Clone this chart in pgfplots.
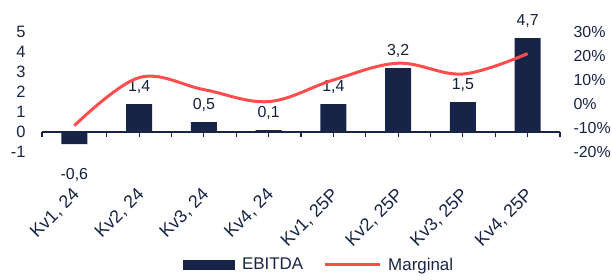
\documentclass[border=0pt]{standalone}
\usepackage{pgfplots}
\pgfplotsset{compat=1.18}
\usepackage{fontspec}
\setmainfont{Liberation Sans}
\definecolor{navy}{HTML}{172447}
\definecolor{lred}{HTML}{FF4D4D}
\begin{document}
\begin{tikzpicture}[x=1bp,y=1bp]
\pgfplotsset{
  every axis/.style={
    scale only axis, width=518bp, height=120bp,
    xmin=-0.5, xmax=7.5,
    /pgf/number format/assume math mode=true,
    tick label style={font=\fontsize{16.5}{18}\selectfont, text=navy},
  }
}
\begin{axis}[
  ymin=-1, ymax=5,
  ytick={-1,0,1,2,3,4,5},
  axis y line*=left,
  y axis line style={draw=none},
  ytick style={draw=none},
  yticklabel style={xshift=-8bp},
  axis x line*=middle,
  x axis line style={navy, line width=1.2bp, -},
  xtick={0,...,7},
  xticklabels={{Kv1, 24},{Kv2, 24},{Kv3, 24},{Kv4, 24},{Kv1, 25P},{Kv2, 25P},{Kv3, 25P},{Kv4, 25P}},
  extra x ticks={-0.5,0.5,1.5,2.5,3.5,4.5,5.5,6.5,7.5},
  extra x tick labels={},
  extra x tick style={tick style={navy, line width=1.2bp}},
  tick align=outside,
  major tick length=5bp,
  xtick style={navy, line width=1.2bp},
  xticklabel style={font=\fontsize{18}{20}\selectfont, xshift=-3bp, yshift=-45bp, rotate=45, anchor=north east},
  ybar, bar width=26bp,
  nodes near coords={\rule{0pt}{25bp}\pgfmathprintnumber{\pgfplotspointmeta}},
  nodes near coords style={font=\fontsize{16}{18}\selectfont, text=navy!85!black, inner ysep=10bp,
    /pgf/number format/use comma, /pgf/number format/fixed,
    /pgf/number format/fixed zerofill, /pgf/number format/precision=1},
  legend style={at={(axis description cs:0.535,-0.94)}, anchor=center, draw=none,
    legend columns=2, font=\fontsize{17}{19}\selectfont, text=navy,
    /tikz/every odd column/.append style={column sep=5bp},
    /tikz/every even column/.append style={column sep=18bp}},
]
\addplot[fill=navy, draw=none,
  legend image code/.code={\fill[navy] (0bp,-5bp) rectangle (52bp,5bp);}]
  coordinates {(0,-0.6) (1,1.4) (2,0.5) (3,0.1) (4,1.4) (5,3.2) (6,1.5) (7,4.7)};
\addlegendentry{EBITDA}
\addlegendimage{legend image code/.code={\draw[lred, line width=3bp] (0bp,0bp) -- (55bp,0bp);}}
\addlegendentry{Marginal}
\end{axis}
\begin{axis}[
  ymin=-20, ymax=30,
  ytick={-20,-10,0,10,20,30},
  yticklabel={\pgfmathprintnumber{\tick}\%},
  axis y line*=right,
  y axis line style={draw=none},
  ytick style={draw=none},
  yticklabel style={xshift=10bp, font=\fontsize{16}{18}\selectfont},
  axis x line=none,
]
\addplot[lred, line width=3bp, smooth, tension=0.6]
  coordinates {(0,-9) (1,11) (2,6) (3,1) (4,10) (5,17) (6,12.5) (7,21)};
\end{axis}
\pgfresetboundingbox
\useasboundingbox (-42,-127) rectangle (570,152);
\end{tikzpicture}
\end{document}
